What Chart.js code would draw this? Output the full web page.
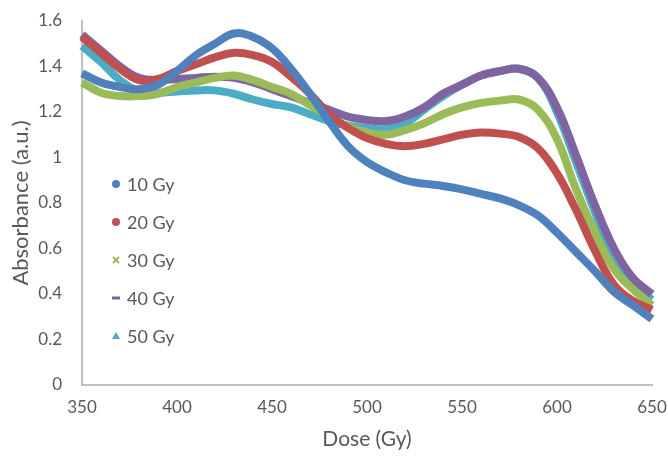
<!DOCTYPE html>
<html>
<head>
<meta charset="utf-8">
<script src="https://cdn.jsdelivr.net/npm/chart.js@4"></script>
<style>
  body { margin: 0; background: #fff; }
  .wrap { width: 668px; height: 456px; }
</style>
</head>
<body>
<div class="wrap"><canvas class="chart" width="668" height="456"></canvas></div>
<script>
const doses = [350, 360, 370, 380, 390, 400, 410, 420, 430, 440, 450, 460, 470, 480, 490, 500,
  510, 520, 530, 540, 550, 560, 570, 580, 590, 600, 610, 620, 630, 640, 650];

const gy10 = [1.37, 1.33, 1.31, 1.30, 1.32, 1.38, 1.45, 1.50, 1.545, 1.53, 1.48, 1.39, 1.28, 1.16, 1.05, 0.98,
  0.935, 0.90, 0.885, 0.875, 0.86, 0.84, 0.82, 0.79, 0.745, 0.67, 0.585, 0.50, 0.41, 0.35, 0.29];
const gy20 = [1.53, 1.46, 1.39, 1.34, 1.345, 1.38, 1.41, 1.44, 1.46, 1.45, 1.42, 1.355, 1.28, 1.19, 1.13, 1.085,
  1.06, 1.05, 1.06, 1.08, 1.10, 1.11, 1.105, 1.09, 1.04, 0.93, 0.77, 0.59, 0.44, 0.37, 0.33];
const gy30 = [1.33, 1.285, 1.27, 1.27, 1.28, 1.31, 1.33, 1.35, 1.36, 1.34, 1.31, 1.28, 1.23, 1.18, 1.135, 1.11,
  1.10, 1.12, 1.15, 1.19, 1.22, 1.24, 1.25, 1.255, 1.21, 1.08, 0.86, 0.67, 0.51, 0.42, 0.35];
const gy40 = [1.54, 1.47, 1.40, 1.35, 1.34, 1.345, 1.35, 1.355, 1.35, 1.33, 1.30, 1.27, 1.24, 1.21, 1.18, 1.165,
  1.16, 1.18, 1.22, 1.28, 1.32, 1.36, 1.38, 1.39, 1.35, 1.22, 1.01, 0.79, 0.60, 0.47, 0.40];
const gy50 = [1.49, 1.42, 1.34, 1.29, 1.285, 1.29, 1.295, 1.295, 1.28, 1.255, 1.235, 1.22, 1.19, 1.16, 1.14, 1.13,
  1.125, 1.15, 1.21, 1.27, 1.32, 1.36, 1.38, 1.39, 1.35, 1.20, 0.98, 0.76, 0.56, 0.44, 0.375];

const seriesNames = ['10 Gy', '20 Gy', '30 Gy', '40 Gy', '50 Gy'];
const seriesValues = [gy10, gy20, gy30, gy40, gy50];
const colors = ['#4F81BD', '#C0504D', '#9BBB59', '#8064A2', '#4BACC6'];
const markers = ['circle', 'circle', 'cross', 'dash', 'triangle'];

const xTicks = [350, 400, 450, 500, 550, 600, 650];
const yTicks = [0, 0.2, 0.4, 0.6, 0.8, 1, 1.2, 1.4, 1.6];

const font = 'Lato, "Open Sans", sans-serif';
const textColor = '#595959';

// legend drawn inside the plot, like the Excel original
const insideLegend = {
  id: 'insideLegend',
  afterDraw(chart) {
    const ctx = chart.ctx;
    ctx.save();
    ctx.font = '18px ' + font;
    ctx.textBaseline = 'middle';
    chart.data.datasets.forEach((ds, i) => {
      const x = 116, y = 184 + i * 38;
      ctx.fillStyle = ds.borderColor;
      ctx.strokeStyle = ds.borderColor;
      const m = markers[i];
      if (m === 'circle') {
        ctx.beginPath(); ctx.arc(x, y, 4, 0, Math.PI * 2); ctx.fill();
      } else if (m === 'cross') {
        ctx.lineWidth = 2;
        ctx.beginPath(); ctx.moveTo(x - 3, y - 3); ctx.lineTo(x + 3, y + 3);
        ctx.moveTo(x + 3, y - 3); ctx.lineTo(x - 3, y + 3); ctx.stroke();
      } else if (m === 'dash') {
        ctx.fillRect(x - 4, y - 1.5, 8, 3);
      } else {
        ctx.beginPath(); ctx.moveTo(x, y - 4); ctx.lineTo(x + 4, y + 3); ctx.lineTo(x - 4, y + 3);
        ctx.closePath(); ctx.fill();
      }
      ctx.fillStyle = textColor;
      ctx.fillText(ds.label, 127, y + 1);
    });
    ctx.restore();
  }
};

const datasets = seriesNames.map((name, i) => ({
  label: name,
  data: doses.map((d, j) => ({ x: d, y: seriesValues[i][j] })),
  borderColor: colors[i],
  backgroundColor: colors[i],
  borderWidth: 8,
  pointRadius: 0,
  tension: 0.4,
  fill: false,
  clip: false,
}));

const config = {
  type: 'line',
  data: { datasets: datasets },
  options: {
    responsive: false,
    animation: false,
    layout: { padding: { top: 21, right: 16, left: 0, bottom: 0 } },
    plugins: {
      legend: { display: false },
      tooltip: { enabled: false },
    },
    scales: {
      x: {
        type: 'linear',
        min: 350,
        max: 650,
        afterBuildTicks: (s) => { s.ticks = xTicks.map(v => ({ value: v })); },
        afterFit: (s) => { s.height = 71; s.paddingLeft = 0; s.paddingRight = 0; },
        grid: { display: false, drawTicks: false },
        border: { color: '#BFBFBF', width: 2 },
        ticks: { color: textColor, font: { family: font, size: 17 }, padding: 12, maxRotation: 0 },
        title: { display: true, text: 'Dose (Gy)', color: textColor, font: { family: font, size: 21 }, padding: { top: 6 } },
      },
      y: {
        min: 0,
        max: 1.6,
        afterBuildTicks: (s) => { s.ticks = yTicks.map(v => ({ value: v })); },
        afterFit: (s) => { s.width = 82; s.paddingTop = 0; s.paddingBottom = 0; },
        grid: { display: false, drawTicks: false },
        border: { color: '#BFBFBF', width: 2 },
        ticks: {
          color: textColor, font: { family: font, size: 17 }, padding: 20,
          callback: (v) => String(Number(v.toFixed(1))),
        },
        title: { display: true, text: 'Absorbance (a.u.)', color: textColor, font: { family: font, size: 22 }, padding: { top: 8 } },
      },
    },
  },
  plugins: [insideLegend],
};

const myChart = new Chart(document.querySelector('.chart'), config);
</script>
</body>
</html>
